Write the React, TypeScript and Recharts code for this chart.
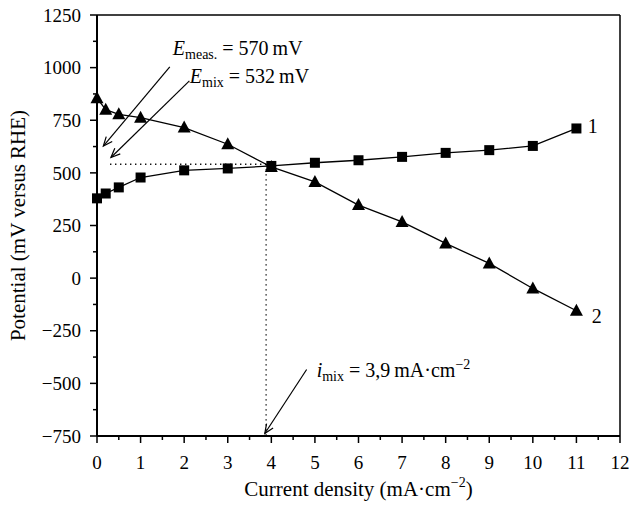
import { ComposedChart, Line, XAxis, YAxis, ReferenceLine, ReferenceDot } from 'recharts';

const FONT = "'Liberation Serif', 'Times New Roman', Tinos, 'DejaVu Serif', serif";

// current density, mA·cm-2
const currentDensity = [0, 0.2, 0.5, 1, 2, 3, 4, 5, 6, 7, 8, 9, 10, 11];
// curve 1 (squares), mV versus RHE
const potential1 = [379, 402, 431, 478, 512, 521, 533, 548, 560, 576, 595, 608, 628, 711];
// curve 2 (triangles), mV versus RHE
const potential2 = [855, 800, 778, 762, 715, 636, 528, 457, 347, 267, 165, 70, -49, -155];

const xTicks = [0, 0.5, 1, 1.5, 2, 2.5, 3, 3.5, 4, 4.5, 5, 5.5, 6, 6.5, 7, 7.5, 8, 8.5, 9, 9.5, 10, 10.5, 11, 11.5, 12];
const yTicks = [-750, -625, -500, -375, -250, -125, 0, 125, 250, 375, 500, 625, 750, 875, 1000, 1125, 1250];

// mixed potential point
const mixCurrent = 3.88;
const mixPotential = 541;

// arrows: [tail, head]
const arrowMeas = [{ x: 1.67, y: 1004 }, { x: 0.145, y: 627 }];
const arrowMix = [{ x: 2.12, y: 937 }, { x: 0.32, y: 573 }];
const arrowCurrent = [{ x: 4.81, y: -434 }, { x: 3.85, y: -738 }];

const data = currentDensity.map((x, i) => ({ x, p1: potential1[i], p2: potential2[i] }));

const textStyle = { fontFamily: FONT };

const XTick = (props: any) => {
  const { x, y, payload } = props;
  const axisY = y - 8;
  const major = Number.isInteger(payload.value);
  return (
    <g>
      <line x1={x} x2={x} y1={axisY} y2={axisY + (major ? 7 : 4)} stroke="#000" strokeWidth={1.5} />
      {major && (
        <text x={x} y={axisY + 33} textAnchor="middle" style={textStyle} fontSize={19} fill="#000">
          {payload.value}
        </text>
      )}
    </g>
  );
};

const YTick = (props: any) => {
  const { x, y, payload } = props;
  const axisX = x + 8;
  const major = payload.value % 250 === 0;
  return (
    <g>
      <line x1={axisX} x2={axisX - (major ? 7 : 4)} y1={y} y2={y} stroke="#000" strokeWidth={1.5} />
      {major && (
        <text x={axisX - 16} y={y} dy="0.35em" textAnchor="end" style={textStyle} fontSize={19} fill="#000">
          {payload.value < 0 ? '\u2212' + Math.abs(payload.value) : payload.value}
        </text>
      )}
    </g>
  );
};

const SquareDot = (props: any) => {
  const { cx, cy, index } = props;
  return <rect key={`sq-${index}`} x={cx - 5} y={cy - 5} width={10} height={10} fill="#000" />;
};

const TriangleDot = (props: any) => {
  const { cx, cy, index } = props;
  return <path key={`tr-${index}`} d={`M${cx},${cy - 7} L${cx + 6.5},${cy + 5} L${cx - 6.5},${cy + 5} Z`} fill="#000" />;
};

const Arrow = (props: any) => {
  const { x1, y1, x2, y2 } = props;
  const a = Math.atan2(y2 - y1, x2 - x1);
  const len = 10;
  const spread = 0.4;
  const hx1 = x2 - len * Math.cos(a - spread);
  const hy1 = y2 - len * Math.sin(a - spread);
  const hx2 = x2 - len * Math.cos(a + spread);
  const hy2 = y2 - len * Math.sin(a + spread);
  return (
    <g>
      <line x1={x1} y1={y1} x2={x2} y2={y2} stroke="#000" strokeWidth={1.2} />
      <polyline points={`${hx1},${hy1} ${x2},${y2} ${hx2},${hy2}`} fill="none" stroke="#000" strokeWidth={1.2} />
    </g>
  );
};

const YLabel = (props: any) => {
  const { viewBox } = props;
  const cy = viewBox.y + viewBox.height / 2;
  return (
    <text x={18} y={cy} transform={`rotate(-90, 18, ${cy})`} textAnchor="middle" dominantBaseline="central" style={textStyle} fontSize={21} fill="#000">
      Potential (mV versus RHE)
    </text>
  );
};

const XLabel = (props: any) => {
  const { viewBox } = props;
  const cx = viewBox.x + viewBox.width / 2;
  return (
    <text x={cx} y={viewBox.y + 60} textAnchor="middle" style={textStyle} fontSize={21} fill="#000">
      Current density (mA·cm
      <tspan dy={-9} fontSize={14}>{'\u22122'}</tspan>
      <tspan dy={9}>)</tspan>
    </text>
  );
};

const MeasText = (p: any) => (
  <text x={p.cx} y={p.cy} style={textStyle} fontSize={20} fill="#000">
    <tspan fontStyle="italic">E</tspan>
    <tspan fontSize={14} dy={4}>meas.</tspan>
    <tspan dy={-4}>{' = 570\u2009mV'}</tspan>
  </text>
);

const MixText = (p: any) => (
  <text x={p.cx} y={p.cy} style={textStyle} fontSize={20} fill="#000">
    <tspan fontStyle="italic">E</tspan>
    <tspan fontSize={14} dy={4}>mix</tspan>
    <tspan dy={-4}>{' = 532\u2009mV'}</tspan>
  </text>
);

const CurrentText = (p: any) => (
  <text x={p.cx} y={p.cy} style={textStyle} fontSize={20} fill="#000">
    <tspan fontStyle="italic">i</tspan>
    <tspan fontSize={14} dy={4}>mix</tspan>
    <tspan dy={-4}>{' = 3,9\u2009mA·cm'}</tspan>
    <tspan fontSize={14} dy={-8}>{'\u22122'}</tspan>
  </text>
);

const CurveLabel = (text: string) => (p: any) => (
  <text x={p.cx} y={p.cy} style={textStyle} fontSize={20} fill="#000">
    {text}
  </text>
);

export default function App() {
  return (
    <div style={{ position: 'absolute', left: 0, top: 0, background: '#fff' }}>
      <ComposedChart width={629} height={508} data={data} margin={{ top: 15, right: 9, bottom: 42, left: 37 }}>
        <XAxis
          type="number"
          dataKey="x"
          domain={[0, 12]}
          ticks={xTicks}
          interval={0}
          tick={<XTick />}
          tickLine={false}
          tickSize={6}
          tickMargin={2}
          axisLine={{ stroke: '#000', strokeWidth: 2 }}
          height={30}
          label={<XLabel />}
        />
        <YAxis
          type="number"
          domain={[-750, 1250]}
          ticks={yTicks}
          interval={0}
          tick={<YTick />}
          tickLine={false}
          tickSize={6}
          tickMargin={2}
          axisLine={{ stroke: '#000', strokeWidth: 2 }}
          width={60}
          label={<YLabel />}
        />
        <ReferenceLine y={1250} stroke="#000" strokeWidth={1.5} />
        <ReferenceLine x={12} stroke="#000" strokeWidth={1.5} />
        <ReferenceLine
          segment={[{ x: 0.3, y: mixPotential }, { x: mixCurrent, y: mixPotential }]}
          stroke="#000"
          strokeWidth={1.3}
          strokeDasharray="1.3 3.7"
        />
        <ReferenceLine
          segment={[{ x: mixCurrent, y: mixPotential }, { x: mixCurrent, y: -750 }]}
          stroke="#000"
          strokeWidth={1.3}
          strokeDasharray="1.3 3.7"
        />
        <ReferenceLine segment={arrowMeas} shape={<Arrow />} />
        <ReferenceLine segment={arrowMix} shape={<Arrow />} />
        <ReferenceLine segment={arrowCurrent} shape={<Arrow />} />
        <Line dataKey="p1" type="linear" stroke="#000" strokeWidth={1.3} dot={<SquareDot />} isAnimationActive={false} />
        <Line dataKey="p2" type="linear" stroke="#000" strokeWidth={1.3} dot={<TriangleDot />} isAnimationActive={false} />
        <ReferenceDot x={1.74} y={1059} r={0} shape={MeasText} />
        <ReferenceDot x={2.13} y={925} r={0} shape={MixText} />
        <ReferenceDot x={5.04} y={-469} r={0} shape={CurrentText} />
        <ReferenceDot x={11.26} y={689} r={0} shape={CurveLabel('1')} />
        <ReferenceDot x={11.35} y={-212} r={0} shape={CurveLabel('2')} />
      </ComposedChart>
    </div>
  );
}
